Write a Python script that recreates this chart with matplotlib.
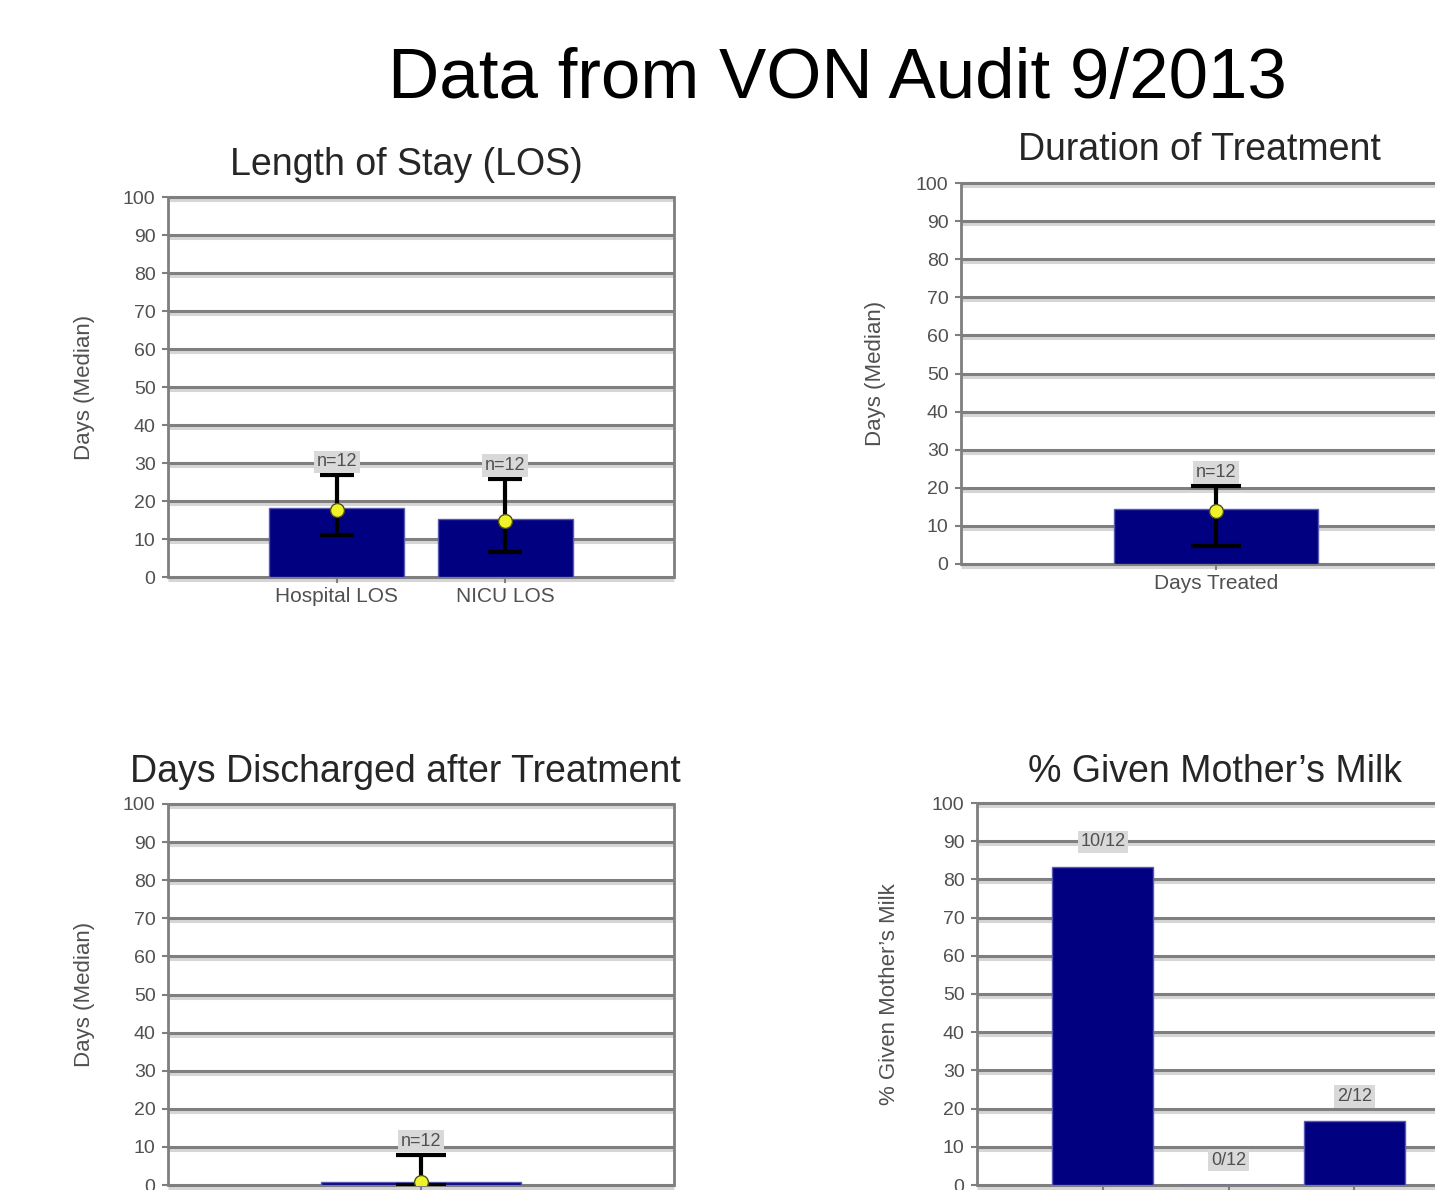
import matplotlib
matplotlib.use('Agg')
import matplotlib.pyplot as plt
from matplotlib.transforms import offset_copy
import numpy as np

plt.rcParams['font.family'] = ['Liberation Sans', 'DejaVu Sans']

# --- data ---
los_labels = ['Hospital LOS', 'NICU LOS']
los_median = [18.2, 15.2]
los_mean = [17.6, 14.8]
los_upper = [26.8, 25.8]
los_lower = [11.0, 6.5]
los_n = ['n=12', 'n=12']

dur_labels = ['Days Treated']
dur_median = [14.5]
dur_mean = [14.0]
dur_upper = [20.5]
dur_lower = [4.7]
dur_n = ['n=12']

dis_labels = ['']
dis_median = [0.9]
dis_mean = [0.8]
dis_upper = [8.0]
dis_lower = [0.0]
dis_n = ['n=12']

milk_labels = ['', '', '']
milk_pct = [83.3, 0.0, 16.7]
milk_counts = ['10/12', '0/12', '2/12']

navy = '#000080'
grid_dark = '#7f7f7f'
grid_light = '#d6d6d6'
txt = '#505050'

fig = plt.figure(figsize=(14.35, 11.9), dpi=100)
W, H = 1435, 1190


def make_ax(x0, x1, y_top, y_bot):
    # pixel box -> figure fraction
    return fig.add_axes([x0 / W, 1 - y_bot / H, (x1 - x0) / W, (y_bot - y_top) / H])


def style(ax, right_spine):
    ax.set_ylim(0, 100)
    ax.set_yticks(np.arange(0, 101, 10))
    yt = ax.get_yaxis_transform()
    shade = offset_copy(yt, fig=fig, y=-3, units='dots')
    for yv in np.arange(0, 101, 10):
        ax.plot([0, 1], [yv, yv], color=grid_light, lw=2.2, transform=shade,
                zorder=0.5, clip_on=False, solid_capstyle='butt')
        ax.plot([0, 1], [yv, yv], color=grid_dark, lw=2.2, transform=yt,
                zorder=1, clip_on=False, solid_capstyle='butt')
    for s in ['top', 'bottom']:
        ax.spines[s].set_visible(False)
    ax.spines['left'].set_color(grid_dark)
    ax.spines['left'].set_linewidth(2)
    ax.spines['right'].set_visible(right_spine)
    ax.spines['right'].set_color(grid_dark)
    ax.spines['right'].set_linewidth(2)
    ax.tick_params(axis='y', colors=grid_dark, labelcolor=txt, labelsize=14,
                   length=4, width=1.5, pad=5)
    ax.tick_params(axis='x', colors=grid_dark, labelcolor=txt, labelsize=15,
                   length=4, width=1.5, pad=3)


def err_bars(ax, xs, mean, lower, upper, nlab, cap):
    yerr = [np.array(mean) - np.array(lower), np.array(upper) - np.array(mean)]
    ax.errorbar(xs, mean, yerr=yerr, fmt='none', ecolor='black', elinewidth=3,
                capsize=cap, capthick=3, zorder=4)
    ax.plot(xs, mean, 'o', ms=10, mfc='#eef22a', mec='#505010', mew=1, zorder=5)
    for x, u, t in zip(xs, upper, nlab):
        ax.text(x, u + 3.5, t, ha='center', va='center', fontsize=13, color=txt,
                bbox=dict(boxstyle='square,pad=0.15', fc='#d9d9d9', ec='none'), zorder=6)


# Length of Stay
ax1 = make_ax(168, 674, 197, 577)
x1 = np.arange(len(los_labels))
ax1.bar(x1, los_median, width=0.8, color=navy, edgecolor='#5a5ab4', lw=1, zorder=3)
err_bars(ax1, x1, los_mean, los_lower, los_upper, los_n, 12)
ax1.set_xlim(-1, 2)
ax1.set_xticks(x1)
ax1.set_xticklabels(los_labels)
style(ax1, True)
ax1.set_ylabel('Days (Median)', fontsize=16, color=txt)
ax1.yaxis.set_label_coords(-0.145, 0.5)

# Duration of Treatment
ax2 = make_ax(961, 1435, 183, 564)
x2 = np.arange(len(dur_labels))
ax2.bar(x2, dur_median, width=0.8, color=navy, edgecolor='#5a5ab4', lw=1, zorder=3)
err_bars(ax2, x2, dur_mean, dur_lower, dur_upper, dur_n, 18)
ax2.set_xlim(-1, 0.86)
ax2.set_xticks(x2)
ax2.set_xticklabels(dur_labels)
style(ax2, False)
ax2.set_ylabel('Days (Median)', fontsize=16, color=txt)
ax2.yaxis.set_label_coords(-0.158, 0.5)

# Days Discharged after Treatment
ax3 = make_ax(168, 674, 804, 1185)
x3 = np.arange(len(dis_labels))
ax3.bar(x3, dis_median, width=0.79, color=navy, edgecolor='#5a5ab4', lw=1, zorder=3)
err_bars(ax3, x3, dis_mean, dis_lower, dis_upper, dis_n, 18)
ax3.set_xlim(-1, 1)
ax3.set_xticks(x3)
ax3.set_xticklabels(dis_labels)
style(ax3, True)
ax3.set_ylabel('Days (Median)', fontsize=16, color=txt)
ax3.yaxis.set_label_coords(-0.145, 0.5)

# % Given Mother's Milk
ax4 = make_ax(977, 1435, 803, 1185)
x4 = np.arange(len(milk_pct))
ax4.bar(x4, milk_pct, width=0.8, color=navy, edgecolor='#5a5ab4', lw=1, zorder=3)
for x, v, t in zip(x4, milk_pct, milk_counts):
    ax4.text(x, v + 6.5, t, ha='center', va='center', fontsize=13, color=txt,
             bbox=dict(boxstyle='square,pad=0.15', fc='#d9d9d9', ec='none'), zorder=6)
ax4.set_xlim(-1, 2.64)
ax4.set_xticks(x4)
ax4.set_xticklabels(milk_labels)
style(ax4, False)
ax4.set_ylabel("% Given Mother\u2019s Milk", fontsize=16, color=txt)
ax4.yaxis.set_label_coords(-0.168, 0.5)

# titles
fig.text(837 / W, 1 - 98 / H, 'Data from VON Audit 9/2013', ha='center', va='baseline',
         fontsize=51, color='black')
fig.text(406 / W, 1 - 175 / H, 'Length of Stay (LOS)', ha='center', va='baseline',
         fontsize=27, color='#262626')
fig.text(1199 / W, 1 - 160 / H, 'Duration of Treatment', ha='center', va='baseline',
         fontsize=27, color='#262626')
fig.text(405 / W, 1 - 782 / H, 'Days Discharged after Treatment', ha='center', va='baseline',
         fontsize=27, color='#262626')
fig.text(1215 / W, 1 - 782 / H, "% Given Mother\u2019s Milk", ha='center', va='baseline',
         fontsize=27, color='#262626')

fig.savefig('out.png', dpi=100, facecolor='white')
